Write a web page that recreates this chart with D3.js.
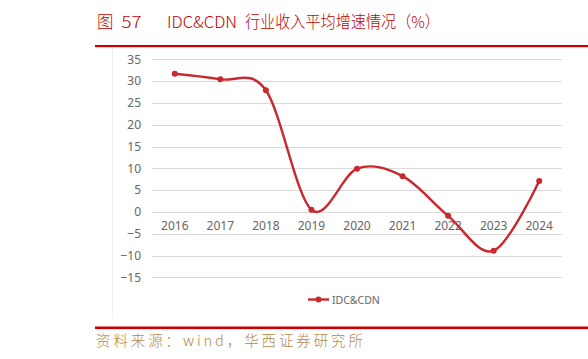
<!DOCTYPE html>
<html><head><meta charset="utf-8">
<script src="https://cdn.jsdelivr.net/npm/d3@7"></script>
<style>body{margin:0;background:#fff}svg{display:block}</style>
</head><body>
<svg id="c" width="588" height="359"></svg>
<script>
const years = ["2016","2017","2018","2019","2020","2021","2022","2023","2024"];
const growth = [31.7, 30.4, 27.9, 0.5, 9.9, 8.2, -0.9, -8.9, 7.1];
const yTicks = [35,30,25,20,15,10,5,0,-5,-10,-15];
const seriesName = "IDC&CDN";
const titleParts = ["图", "57", "IDC&CDN", "行业收入平均增速情况（%）"];
const sourceText = "资料来源：wind，华西证券研究所";

const svg = d3.select("#c");
const red = "#c8282e";
const x = d3.scaleBand().domain(years).range([152, 562]);
const y = d3.scaleLinear().domain([-15, 35]).range([277.3, 59.3]);

// title
const tFont = "'Noto Sans CJK SC', sans-serif";
const tPos = [[97, null], [121.5, 20], [167, 70], [245, 195]];
titleParts.forEach((t, i) => {
  const el = svg.append("text").attr("x", tPos[i][0]).attr("y", 27.5).attr("fill", "#c00000")
    .attr("font-family", tFont).attr("font-size", 16.5).attr("font-weight", 300).text(t);
  if (tPos[i][1]) el.attr("textLength", tPos[i][1]).attr("lengthAdjust", "spacingAndGlyphs");
});
svg.append("rect").attr("x", 95).attr("y", 45).attr("width", 493).attr("height", 2.2).attr("fill", "#cc0000");

// faint chart area border
svg.append("line").attr("x1", 112.5).attr("x2", 112.5).attr("y1", 47).attr("y2", 318).attr("stroke", "#f0f0f0");

// grid
svg.append("g").selectAll("line").data(yTicks).join("line")
  .attr("x1", 152).attr("x2", 562)
  .attr("y1", d => Math.round(y(d)) + 0.5).attr("y2", d => Math.round(y(d)) + 0.5)
  .attr("stroke", "#d9d9d9").attr("stroke-width", 1);

// y axis labels
const ya = svg.append("g").attr("transform", "translate(152,0)")
  .call(d3.axisLeft(y).tickValues(yTicks).tickSize(0).tickPadding(11).tickFormat(d => d < 0 ? "\u2212" + Math.abs(d) : d));
ya.select(".domain").remove();
ya.selectAll("text").attr("fill", "#666").attr("font-size", 12).attr("font-family", "'Noto Sans', sans-serif");

// x axis labels at y=0
const xa = svg.append("g").attr("transform", `translate(0,${y(0)})`)
  .call(d3.axisBottom(x).tickSize(0).tickPadding(10));
xa.select(".domain").remove();
xa.selectAll("text").attr("fill", "#666").attr("font-size", 12).attr("font-family", "'Noto Sans', sans-serif");

// line
const line = d3.line().x((d, i) => x(years[i]) + x.bandwidth() / 2).y(d => y(d)).curve(d3.curveCardinal.tension(0));
svg.append("path").datum(growth).attr("d", line).attr("fill", "none").attr("stroke", red).attr("stroke-width", 2.4);
svg.append("g").selectAll("circle").data(growth).join("circle")
  .attr("cx", (d, i) => x(years[i]) + x.bandwidth() / 2).attr("cy", d => y(d)).attr("r", 3).attr("fill", red);

// legend
svg.append("line").attr("x1", 308).attr("x2", 329).attr("y1", 299.5).attr("y2", 299.5).attr("stroke", red).attr("stroke-width", 2.4);
svg.append("circle").attr("cx", 318.5).attr("cy", 299.5).attr("r", 3).attr("fill", red);
svg.append("text").attr("x", 332).attr("y", 303.5).attr("fill", "#666").attr("font-size", 10.5)
  .attr("font-family", "'Noto Sans', sans-serif").text(seriesName);

// source
svg.append("rect").attr("x", 95).attr("y", 326.5).attr("width", 493).attr("height", 2.6).attr("fill", "#cc0000");
svg.append("text").attr("x", 96).attr("y", 346).attr("fill", "#b08a4a").attr("font-size", 14.5)
  .attr("font-family", "'Noto Sans CJK SC', sans-serif").attr("font-weight", 300)
  .attr("textLength", 267).attr("lengthAdjust", "spacing").text(sourceText);
</script>
</body></html>
